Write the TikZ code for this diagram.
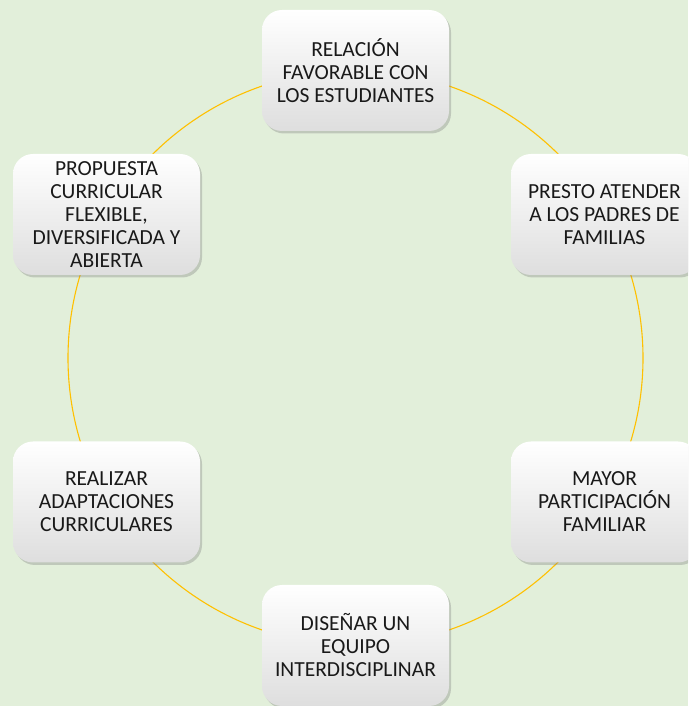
\documentclass[tikz,border=0pt]{standalone}
\usepackage{fontspec}
\setmainfont{Carlito}
\usepackage{tikz}
\usetikzlibrary{shadows}

\definecolor{fondo}{RGB}{226,239,218}
\definecolor{aro}{RGB}{255,192,0}
\definecolor{pie}{RGB}{222,222,222}

\tikzset{
  caja/.style={minimum width=187pt, minimum height=121pt, rounded corners=20pt,
    top color=white, middle color=white, bottom color=pie,
    drop shadow={shadow xshift=2pt, shadow yshift=-2.5pt, opacity=0.35},
    align=center, font=\fontsize{21.5}{23}\selectfont, text=black!90},
}

\begin{document}
\begin{tikzpicture}[x=1pt,y=1pt]
% canvas 688 x 706, y measured from bottom
\useasboundingbox (0,0) rectangle (688,706);
\fill[fondo] (0,0) rectangle (688,706);
\clip (0,0) rectangle (688,706);

% ring behind the boxes
\coordinate (centro) at (355.5,348);
\draw[aro, line width=1.1pt] (centro) circle (287.5);

% Boxes
\node[caja] (relacion) at (355.5,635.5) {RELACIÓN\\FAVORABLE CON\\LOS ESTUDIANTES};
\node[caja] (presto) at (604.5,491.5) {PRESTO ATENDER\\A LOS PADRES DE\\FAMILIAS};
\node[caja] (mayor) at (604.5,204) {MAYOR\\PARTICIPACIÓN\\FAMILIAR};
\node[caja] (disenar) at (355.5,60.5) {DISEÑAR UN\\EQUIPO\\INTERDISCIPLINAR};
\node[caja] (realizar) at (106.5,204) {REALIZAR\\ADAPTACIONES\\CURRICULARES};
\node[caja] (propuesta) at (106.5,491.5) {PROPUESTA\\CURRICULAR\\FLEXIBLE,\\DIVERSIFICADA Y\\ABIERTA};
\end{tikzpicture}
\end{document}
